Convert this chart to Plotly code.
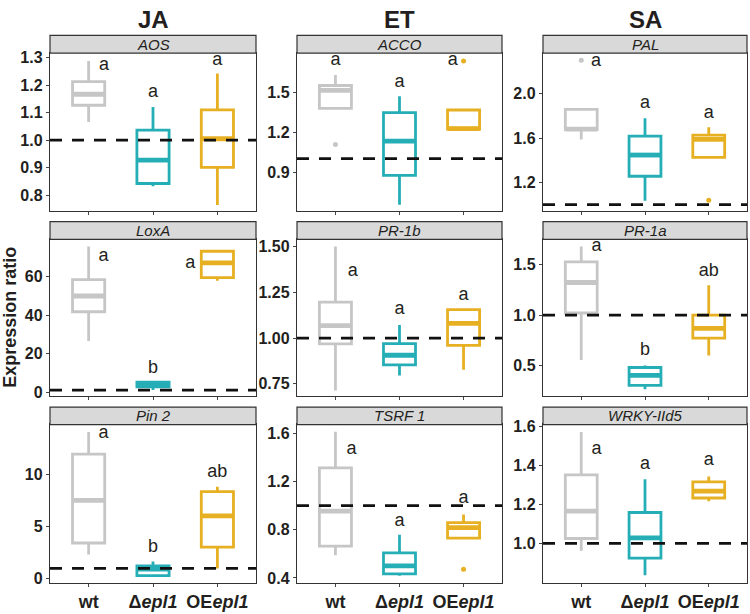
import plotly.graph_objects as go

# ---------------- data ----------------
groups = ["wt", "Δepl1", "OEepl1"]
tick_text = ["wt", "Δ<i>epl1</i>", "OE<i>epl1</i>"]
hormones = ["JA", "ET", "SA"]
genes = ["AOS", "ACCO", "PAL", "LoxA", "PR-1b", "PR-1a", "Pin 2", "TSRF 1", "WRKY-IId5"]

lower_whisker = [
    [1.066, 0.832, 0.764],
    [1.378, 0.655, 1.208],
    [1.588, 1.035, 1.426],
    [26.6, 1.0, 58.0],
    [0.714, 0.796, 0.827],
    [0.558, 0.268, 0.603],
    [2.34, 0.31, 1.0],
    [0.588, 0.419, 0.731],
    [0.962, 0.837, 1.215],
]
q1_vals = [
    [1.127, 0.842, 0.901],
    [1.378, 0.875, 1.221],
    [1.676, 1.256, 1.426],
    [41.8, 2.7, 59.6],
    [0.968, 0.853, 0.960],
    [1.022, 0.307, 0.774],
    [3.43, 0.31, 3.03],
    [0.664, 0.433, 0.731],
    [1.025, 0.925, 1.232],
]
median_vals = [
    [1.167, 0.927, 1.005],
    [1.512, 1.132, 1.226],
    [1.680, 1.447, 1.588],
    [50.0, 3.9, 67.3],
    [1.068, 0.906, 1.080],
    [1.323, 0.407, 0.871],
    [7.51, 0.94, 6.03],
    [0.955, 0.501, 0.818],
    [1.165, 1.028, 1.267],
]
q3_vals = [
    [1.213, 1.036, 1.110],
    [1.549, 1.346, 1.365],
    [1.859, 1.617, 1.626],
    [58.5, 5.1, 73.3],
    [1.196, 0.969, 1.155],
    [1.526, 0.484, 1.000],
    [11.94, 1.25, 8.35],
    [1.315, 0.609, 0.859],
    [1.350, 1.158, 1.315],
]
upper_whisker = [
    [1.288, 1.121, 1.243],
    [1.628, 1.468, 1.365],
    [1.859, 1.779, 1.697],
    [75.8, 5.1, 73.3],
    [1.500, 1.071, 1.155],
    [1.678, 0.503, 1.296],
    [14.06, 1.65, 8.82],
    [1.614, 0.759, 0.927],
    [1.570, 1.328, 1.342],
]
# outliers: (gene index, group index, value)
outliers = [
    (1, 0, 1.106), (1, 2, 1.733),
    (2, 0, 2.30), (2, 2, 1.04),
    (7, 2, 0.473),
]
sig_letters = [
    ["a", "a", "a"], ["a", "a", "a"], ["a", "a", "a"],
    ["a", "b", "a"], ["a", "a", "a"], ["a", "b", "ab"],
    ["a", "b", "ab"], ["a", "a", "a"], ["a", "a", "a"],
]
letter_y = [
    [1.27, 1.174, 1.29],
    [1.733, 1.569, 1.733],
    [2.29, 1.912, 1.823],
    [70.4, 12.5, 67.0],
    [1.362, 1.157, 1.235],
    [1.68, 0.655, 1.436],
    [13.9, 3.03, 10.16],
    [1.47, 0.873, 1.058],
    [1.482, 1.403, 1.423],
]
reference_level = 1.0

y_ticks = [
    [0.8, 0.9, 1.0, 1.1, 1.2, 1.3],
    [0.9, 1.2, 1.5],
    [1.2, 1.6, 2.0],
    [0, 20, 40, 60],
    [0.75, 1.00, 1.25, 1.50],
    [0.5, 1.0, 1.5],
    [0, 5, 10],
    [0.4, 0.8, 1.2, 1.6],
    [1.0, 1.2, 1.4, 1.6],
]
y_tickformat = [".1f", ".1f", ".1f", "d", ".2f", ".1f", "d", ".1f", ".1f"]
y_ranges = [
    [0.742, 1.317], [0.608, 1.792], [0.944, 2.365],
    [-2.2, 79.5], [0.682, 1.539], [0.2, 1.749],
    [-0.35, 14.75], [0.362, 1.673], [0.80, 1.607],
]

# ---------------- style / layout ----------------
colors = ["#c6c6c6", "#26aeb7", "#e6b022"]
letter_dx = [
    [0.24, 0, 0], [0, 0, -0.17], [0.23, 0, 0],
    [0.23, 0, -0.42], [0.27, 0, 0], [0.24, 0, 0],
    [0.23, 0, 0], [0.25, 0, 0], [0.24, 0, 0],
]
W, H = 750, 614
col_px = [(50, 256), (297, 502), (543, 747)]
row_px = [(47, 208), (237, 397), (426, 587)]   # plot area top/bottom
strip_h = 18
FONT = "Liberation Sans, Arial, sans-serif"
DARK = "#231f20"
BOX_W = 0.5


def fx(p):
    return p / W


def fy(p):
    return 1 - p / H


fig = go.Figure()
layout_axes = {}
shapes = []
annotations = []

for k, gene in enumerate(genes):
    r, c = divmod(k, 3)
    ax = "" if k == 0 else str(k + 1)
    xref, yref = "x" + ax, "y" + ax
    for g in range(3):
        fig.add_trace(go.Box(
            x=[g], q1=[q1_vals[k][g]], median=[median_vals[k][g]], q3=[q3_vals[k][g]],
            lowerfence=[lower_whisker[k][g]], upperfence=[upper_whisker[k][g]],
            width=BOX_W, whiskerwidth=0, boxpoints=False,
            line=dict(color=colors[g], width=2.8), fillcolor="white",
            xaxis=xref, yaxis=yref, showlegend=False, hoverinfo="skip",
        ))
    for g in range(3):
        m = median_vals[k][g]
        fig.add_trace(go.Scatter(
            x=[g - BOX_W / 2, g + BOX_W / 2], y=[m, m], mode="lines",
            line=dict(color=colors[g], width=4.8),
            xaxis=xref, yaxis=yref, showlegend=False, hoverinfo="skip",
        ))
    ox = [o[1] for o in outliers if o[0] == k]
    oy = [o[2] for o in outliers if o[0] == k]
    if ox:
        fig.add_trace(go.Scatter(
            x=ox, y=oy, mode="markers",
            marker=dict(color=[colors[g] for g in ox], size=5),
            xaxis=xref, yaxis=yref, showlegend=False, hoverinfo="skip",
        ))
    fig.add_trace(go.Scatter(
        x=[-0.6, 2.6], y=[reference_level, reference_level], mode="lines",
        line=dict(color="#111111", width=2.8, dash="12px,10px"),
        xaxis=xref, yaxis=yref, showlegend=False, hoverinfo="skip",
    ))
    fig.add_trace(go.Scatter(
        x=[g + letter_dx[k][g] for g in range(3)], y=letter_y[k],
        text=sig_letters[k], mode="text", textposition="middle center",
        textfont=dict(family=FONT, size=18, color=DARK),
        xaxis=xref, yaxis=yref, showlegend=False, hoverinfo="skip",
    ))

    x0, x1 = col_px[c]
    t, b = row_px[r]
    layout_axes["xaxis" + ax] = dict(
        domain=[fx(x0), fx(x1)], anchor=yref, range=[-0.6, 2.6],
        tickvals=[0, 1, 2], ticktext=tick_text, showticklabels=(r == 2),
        ticks="outside", ticklen=3, tickwidth=1, tickcolor="#444",
        showgrid=False, zeroline=False, showline=True, mirror=True,
        linecolor="#333", linewidth=1.2,
        tickfont=dict(family=FONT, size=18, color=DARK, weight="bold"),
    )
    layout_axes["yaxis" + ax] = dict(
        domain=[fy(b), fy(t)], anchor=xref, range=y_ranges[k],
        tickvals=y_ticks[k], tickformat=y_tickformat[k],
        ticks="outside", ticklen=3, tickwidth=1, tickcolor="#444",
        showgrid=False, zeroline=False, showline=True, mirror=True,
        linecolor="#333", linewidth=1.2,
        tickfont=dict(family=FONT, size=16, color=DARK, weight="bold"),
    )
    # strip
    shapes.append(dict(type="rect", xref="paper", yref="paper",
                       x0=fx(x0), x1=fx(x1), y0=fy(t), y1=fy(t - strip_h),
                       fillcolor="#d9d9d9", line=dict(color="#333", width=1.2),
                       layer="above"))
    annotations.append(dict(xref="paper", yref="paper", x=fx((x0 + x1) / 2),
                            y=fy(t - strip_h / 2), text="<i>" + gene + "</i>",
                            showarrow=False, xanchor="center", yanchor="middle",
                            font=dict(family=FONT, size=15, color=DARK)))

for c, hname in enumerate(hormones):
    x0, x1 = col_px[c]
    annotations.append(dict(xref="paper", yref="paper", x=fx((x0 + x1) / 2), y=fy(13),
                            text="<b>" + hname + "</b>", showarrow=False,
                            xanchor="center", yanchor="middle",
                            font=dict(family=FONT, size=24, color=DARK)))

annotations.append(dict(xref="paper", yref="paper", x=fx(10), y=fy(317),
                        text="<b>Expression ratio</b>", textangle=-90, showarrow=False,
                        xanchor="center", yanchor="middle",
                        font=dict(family=FONT, size=18, color=DARK)))

fig.update_layout(
    width=W, height=H, margin=dict(l=0, r=0, t=0, b=0),
    paper_bgcolor="white", plot_bgcolor="white",
    boxmode="overlay", shapes=shapes, annotations=annotations,
    **layout_axes,
)

fig.write_html(
    "out.html",
    config={"displayModeBar": False, "staticPlot": True},
    post_script="document.body.style.margin='0px';document.body.style.overflow='hidden';",
)
